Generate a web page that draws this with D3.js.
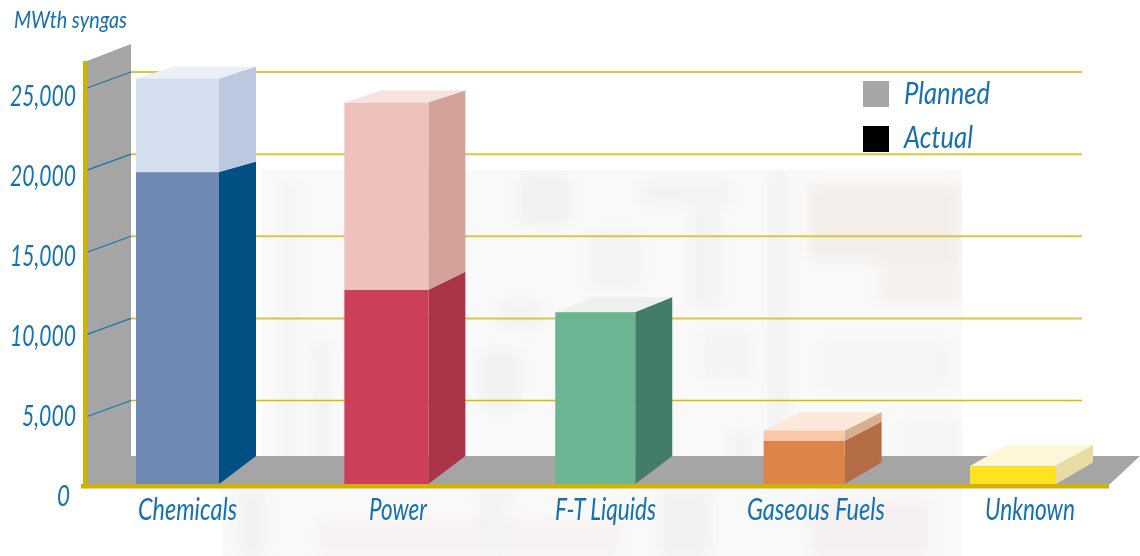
<!DOCTYPE html>
<html><head><meta charset="utf-8">
<style>html,body{margin:0;padding:0;background:#fff}svg{display:block}
text{font-family:Lato,"Open Sans",sans-serif;font-style:italic;fill:#1470ad}</style>
<script src="https://cdn.jsdelivr.net/npm/d3@7/dist/d3.min.js"></script>
</head><body><svg id="c" width="1140" height="556"></svg>
<script>
const categories = ["Chemicals","Power","F-T Liquids","Gaseous Fuels","Unknown"];
const actual  = [19880,12720,11350,3530,1980];
const planned = [25570,24110,null,4140,null];
const yTicks  = [5000,10000,15000,20000,25000];
const legendLabels = ["Planned","Actual"];
const legendColors = ["#a6a6a6","#000000"];

const frontColors  = ["#7089b2","#cc3f59","#6cb592","#dd844b","#ffe31e"];
const sideColors   = ["#005084","#aa3549","#437c69","#b46d47","#e9dba4"];
const plannedFront = ["#d6dfef","#eec1bd",null,"#f8c8a8",null];
const plannedSide  = ["#bcc8df","#d3a29a",null,"#d8ae90",null];
const topColors    = ["#eceff7","#f6e2de","#edf2ee","#fde9dc","#fdf6d8"];
const barWidths    = [83,84,80,81,86];
const labelWidths  = [99,58,101,138,90];
const labelCentres = [187.5,398,605.5,816,1030];

// faint photograph behind the chart: decorative blurred patches
const photoPatches = [
 [520,175,50,50,"#f1f1ef"],[640,180,90,25,"#f3f3f3"],[810,185,150,75,"#f3eeea"],[880,260,80,45,"#f6f1ee"],
 [590,230,50,60,"#f3f3f3"],[690,200,30,110,"#f3f3f3"],[770,170,16,320,"#f2f2f2"],[500,300,40,30,"#f3f3f3"],
 [480,350,40,60,"#f2f2f2"],[700,330,50,50,"#f4f4f4"],[820,340,130,50,"#f5f5f3"],[280,180,20,300,"#f5f5f5"],
 [315,340,14,140,"#f2f2f2"],[240,490,24,66,"#f2f2f2"],[320,520,300,36,"#f7f2f2"],[660,490,50,66,"#f2f2f2"],
 [810,500,120,56,"#f6f1f1"],[480,490,30,66,"#f4f2f2"],[730,430,24,50,"#f3f3f3"],[900,420,60,50,"#f5f5f5"]
];

const W = 1140, H = 556, floorFront = 484, floorBack = 456;
const svg = d3.select("#c");
const defs = svg.append("defs");
defs.append("filter").attr("id","b").attr("x","-30%").attr("y","-30%").attr("width","160%").attr("height","160%")
  .append("feGaussianBlur").attr("stdDeviation",6);
defs.append("filter").attr("id","t").append("feGaussianBlur").attr("stdDeviation",0.35);
defs.append("clipPath").attr("id","ph").selectAll("rect")
  .data([[262,170,700,320],[222,486,740,70]]).join("rect")
  .attr("x",d=>d[0]).attr("y",d=>d[1]).attr("width",d=>d[2]).attr("height",d=>d[3]);

const yBack  = d3.scaleLinear().domain([5000,25000]).range([400.5,72]);
const yFront = d3.scaleLinear().domain([5000,25000]).range([416.5,88]);
const yLabel = d3.scaleLinear().domain([0,25000]).range([495,95]);
const x = d3.scalePoint().domain(categories).range([177.5,1013]);
const xLabel = d3.scaleOrdinal().domain(categories).range(labelCentres);
const depth = 37;
const rise = d3.scaleLinear().domain([1980,4140,11350,12720,19880,24110]).range([21,18.5,15,18,10.5,12]).clamp(true);
const poly = d3.line().curve(d3.curveLinearClosed);

// background
const ph = svg.append("g").attr("clip-path","url(#ph)");
ph.append("rect").attr("width",W).attr("height",H).attr("fill","#f9f9f9");
ph.append("g").attr("filter","url(#b)").selectAll("rect").data(photoPatches).join("rect")
  .attr("x",d=>d[0]).attr("y",d=>d[1]).attr("width",d=>d[2]).attr("height",d=>d[3]).attr("fill",d=>d[4]);

// gridlines
svg.append("g").selectAll("line").data(yTicks).join("line")
  .attr("x1",131).attr("x2",1082).attr("y1",d=>yBack(d)).attr("y2",d=>yBack(d))
  .attr("stroke",d=>d<=5000?"#d6ba0a":"#dcc63c").attr("stroke-width",d=>d<=5000?1.5:2);

// wall and floor
svg.append("path").attr("fill","#a5a5a5").attr("d",poly([[87,61],[131,44],[131,floorFront],[87,floorFront]]));
svg.append("path").attr("fill","#a5a5a5").attr("d",poly([[131,floorBack],[1140,floorBack],[1110,floorFront],[131,floorFront]]));
svg.append("g").selectAll("line").data(yTicks).join("line")
  .attr("x1",87).attr("x2",131).attr("y1",d=>yFront(d)).attr("y2",d=>yBack(d))
  .attr("stroke","#1b74ad").attr("stroke-width",1.3);

// bars
const bars = svg.append("g");
categories.forEach((c,i)=>{
  const x0 = x(c)-barWidths[i]/2, x1 = x(c)+barWidths[i]/2;
  const a = actual[i], p = planned[i];
  const ya = yFront(a);
  const topVal = p==null ? a : p;
  const yt = yFront(topVal);
  const bottomRise = a<5000 ? 21.5 : 28;
  bars.append("path").attr("fill",topColors[i]).attr("d",poly([[x0,yt],[x0+depth,yt-rise(topVal)],[x1+depth,yt-rise(topVal)],[x1,yt]]));
  bars.append("path").attr("fill",sideColors[i]).attr("d",poly([[x1,ya],[x1+depth,ya-rise(a)],[x1+depth,floorFront-bottomRise],[x1,floorFront]]));
  bars.append("rect").attr("x",x0).attr("width",x1-x0).attr("y",ya).attr("height",floorFront-ya).attr("fill",frontColors[i]);
  if(p!=null){
    bars.append("path").attr("fill",plannedSide[i]).attr("d",poly([[x1,yt],[x1+depth,yt-rise(p)],[x1+depth,ya-rise(a)],[x1,ya]]));
    bars.append("rect").attr("x",x0).attr("width",x1-x0).attr("y",yt).attr("height",ya-yt).attr("fill",plannedFront[i]);
  }
});

// axis bars
svg.append("rect").attr("x",83).attr("y",61).attr("width",4.5).attr("height",427).attr("fill","#cfb300");
svg.append("rect").attr("x",81).attr("y",484).attr("width",1028).attr("height",4.5).attr("fill","#cfb300");

const txt = svg.append("g").attr("filter","url(#t)");
// y axis labels
const axisG = txt.append("g").attr("transform","translate(76,0)")
  .call(d3.axisLeft(yLabel).tickValues([0,...yTicks]).tickSize(0).tickPadding(0).tickFormat(d3.format(",")));
axisG.select(".domain").remove();
axisG.attr("font-family",null).attr("font-size",null);
axisG.selectAll("text").attr("font-size",29)
  .attr("dy","0.35em").attr("textLength",d=>d===0?13:(d<10000?54:66)).attr("lengthAdjust","spacingAndGlyphs")
  .attr("dx",d=>d===0?-6:0);

// x axis labels
txt.append("g").selectAll("text").data(categories).join("text")
  .attr("x",d=>xLabel(d)).attr("y",520).attr("text-anchor","middle").attr("font-size",31)
  .attr("textLength",(d,i)=>labelWidths[i]).attr("lengthAdjust","spacingAndGlyphs").text(d=>d);

// title
txt.append("text").attr("x",14).attr("y",28).attr("font-size",23).attr("textLength",113)
  .attr("lengthAdjust","spacingAndGlyphs").text("MWth syngas");

// legend
const lg = svg.append("g").selectAll("g").data(legendLabels).join("g");
lg.append("rect").attr("x",863).attr("y",(d,i)=>81+i*45).attr("width",26).attr("height",26)
  .attr("fill",(d,i)=>legendColors[i]);
lg.append("text").attr("x",904).attr("y",(d,i)=>104+i*43.5).attr("font-size",31).attr("filter","url(#t)")
  .attr("textLength",(d,i)=>i?69:86).attr("lengthAdjust","spacingAndGlyphs").text(d=>d);
</script></body></html>
